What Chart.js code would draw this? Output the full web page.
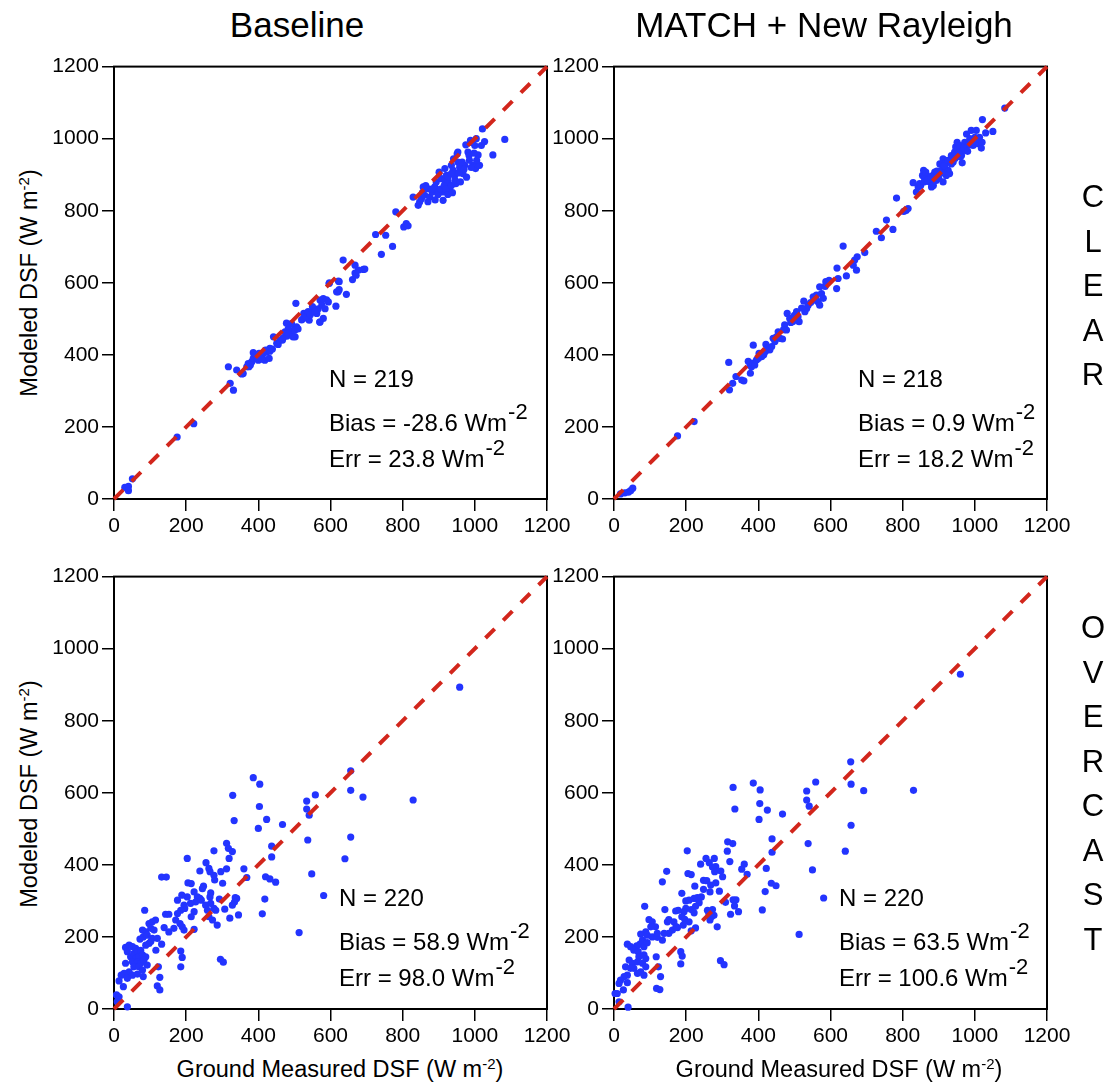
<!DOCTYPE html>
<html><head><meta charset="utf-8">
<script src="https://cdn.jsdelivr.net/npm/chart.js@4.4.0/dist/chart.umd.min.js"></script>
<style>
html,body{margin:0;padding:0;background:#fff;}
#wrap{position:relative;width:1118px;height:1084px;overflow:hidden;font-family:"Liberation Sans",Arial,Helvetica,sans-serif;color:#000;background:#fff;}
canvas{position:absolute;}
.t{position:absolute;white-space:nowrap;line-height:1;}
.ann{font-size:24px;}
.sup{position:relative;font-size:22px;top:-12px;margin-left:1px;}
.asup{position:relative;font-size:15px;top:-8px;}
.ttl{font-size:35px;transform:translateX(-50%);}
.axl{font-size:23.5px;}
.side{position:absolute;font-size:31px;line-height:44.5px;text-align:center;width:40px;}
</style></head><body><div id="wrap">
<canvas id="c0" width="533" height="493" style="left:44px;top:51px"></canvas>
<canvas id="c1" width="533" height="493" style="left:544px;top:51px"></canvas>
<canvas id="c2" width="533" height="493" style="left:44px;top:561px"></canvas>
<canvas id="c3" width="533" height="493" style="left:544px;top:561px"></canvas>

<div class="t ttl" style="left:297px;top:7px">Baseline</div>
<div class="t ttl" style="left:824px;top:7px">MATCH + New Rayleigh</div>

<div class="side" style="left:1073px;top:175px">C<br>L<br>E<br>A<br>R</div>
<div class="side" style="left:1073px;top:606px">O<br>V<br>E<br>R<br>C<br>A<br>S<br>T</div>

<div class="t axl" style="left:30px;top:283px;transform:translate(-50%,-50%) rotate(-90deg)">Modeled DSF (W m<span class="asup">-2</span>)</div>
<div class="t axl" style="left:30px;top:794px;transform:translate(-50%,-50%) rotate(-90deg)">Modeled DSF (W m<span class="asup">-2</span>)</div>
<div class="t axl" style="left:340px;top:1070px;transform:translate(-50%,-50%)">Ground Measured DSF (W m<span class="asup">-2</span>)</div>
<div class="t axl" style="left:839px;top:1070px;transform:translate(-50%,-50%)">Ground Measured DSF (W m<span class="asup">-2</span>)</div>

<div id="anns"></div>
</div>
<script>
// ---------- data ----------
const tickValues = [0, 200, 400, 600, 800, 1000, 1200];
const oneToOne = [0, 1200];
const panelNames = ["Baseline / CLEAR", "MATCH + New Rayleigh / CLEAR", "Baseline / OVERCAST", "MATCH + New Rayleigh / OVERCAST"];
const nLabels = ["N = 219", "N = 218", "N = 220", "N = 220"];
const biasLabels = ["Bias = -28.6 Wm", "Bias = 0.9 Wm", "Bias = 58.9 Wm", "Bias = 63.5 Wm"];
const errLabels = ["Err = 23.8 Wm", "Err = 18.2 Wm", "Err = 98.0 Wm", "Err = 100.6 Wm"];

// [ground measured, modeled]
const baselineClear = [
[30,32],[40,35],[40,23],[51,56],[175,172],[221,209],
[317,367],[322,321],[331,302],[340,358],[358,348],[354,347],[368,367],[372,376],[382,381],[386,390],[395,394],[405,399],[414,403],[423,408],[432,418],[400,385],[418,385],[430,390],[386,406],[402,404],[409,388],[420,413],[432,410],[439,416],[374,367],[378,372],
[442,450],[451,432],[460,441],[469,448],[479,452],[488,459],[497,468],[502,450],[474,464],[483,473],[492,487],[506,478],[478,488],[455,429],[467,441],[482,460],[496,450],[501,468],[510,472],[504,543],[525,501],[534,510],[541,496],[548,519],[557,524],[562,515],[566,528],[571,491],[571,552],[576,538],[580,501],[580,556],[585,528],[589,553],[594,547],[520,497],[526,515],[532,506],[538,520],[544,511],[550,534],[556,520],[596,598],[570,491],
[615,535],[621,575],[624,603],[635,663],[644,568],[617,575],[624,581],[597,600],[622,605],[661,609],[668,627],[671,621],[668,649],[677,635],[691,637],[695,638],[725,734],[741,679],[753,732],[772,701],[781,797],[803,755],[810,764],[815,758],
[829,838],[843,815],[847,824],[852,833],[857,866],[864,870],[870,861],[861,843],[875,838],[882,852],[889,866],[893,880],[895,857],[901,907],[907,889],[912,829],[910,852],[917,884],[921,898],[926,880],[929,866],[930,857],[935,926],[940,912],[941,944],[944,898],[947,875],[951,958],[953,963],[953,935],[958,921],[963,912],[967,903],[972,926],[977,893],[975,983],[981,963],[984,953],[988,995],[993,989],[995,926],[1000,981],[1002,917],[1006,930],[1009,955],[1013,926],[1018,981],[1021,1027],[1027,992],[1004,1000],[1050,955],[1083,998],[926,894],[935,903],[917,917],
[890,830],[898,845],[905,860],[915,870],[920,860],[925,845],[935,870],[945,885],[955,905],[960,880],[965,935],[970,915],[985,940],[990,920],[998,960],[1005,940],[870,825],[880,860],[855,850],[938,850]
];

const matchClear = [
[30,17],[40,19],[46,23],[52,30],[18,14],[176,175],[222,215],
[318,379],[320,303],[329,321],[338,340],[354,330],[360,328],[378,349],
[372,382],[377,372],[381,367],[386,377],[390,372],[395,386],[386,427],[402,404],[409,395],[415,400],[421,429],[427,418],[432,414],[437,423],[441,446],[446,437],[455,464],[460,446],[467,444],[473,483],[478,469],[480,515],[487,501],[495,492],[501,497],[506,515],[510,506],[513,492],[506,520],[526,549],[529,520],[534,529],[538,538],[552,561],[557,552],[561,566],[566,547],[570,538],[575,570],[580,557],[570,589],[587,603],[596,607],[618,641],[621,612],[617,584],[644,619],
[400,390],[420,410],[450,450],[470,470],[490,490],[500,510],[520,530],[545,545],[560,555],[585,590],
[635,702],[663,649],[667,663],[672,635],[674,672],[695,684],[727,743],[741,725],[755,774],[773,748],[783,835],[803,798],[810,801],[815,806],
[829,878],[838,852],[843,866],[847,875],[855,898],[858,912],[864,907],[870,894],[875,880],[880,866],[884,889],[889,907],[893,884],[898,898],[903,930],[907,912],[912,944],[912,880],[917,921],[921,935],[926,912],[930,903],[935,953],[940,935],[944,963],[947,977],[951,990],[953,972],[958,981],[965,933],[963,953],[967,967],[972,990],[977,1013],[981,981],[986,1000],[990,1023],[995,981],[1000,1004],[1004,1023],[1009,986],[1013,1004],[1018,974],[1021,1053],[1030,1016],[1050,1020],[1083,1085],[921,898],[884,898],[861,889],
[850,870],[860,880],[868,885],[878,895],[885,870],[895,910],[900,890],[910,905],[915,925],[925,940],[935,930],[945,945],[955,960],[960,950],[970,975],[980,965],[990,990],[1000,985],[1010,1000],[1020,990]
];

const baselineOvercast = [
[958,893],[829,580],[656,661],[656,607],[690,588],[656,477],[640,417],[558,594],[534,577],[534,555],[541,538],[537,469],[548,375],[581,315],[513,212],[467,512],[386,642],[404,624],[403,562],[400,501],[423,526],[437,452],[437,422],[420,367],[432,361],[448,352],[418,305],[411,264],[329,593],[333,523],[312,460],[317,446],[328,437],[319,418],[360,389],[368,365],[312,389],[295,138],[303,130],[345,261],[321,252],[336,309],[340,307],[307,277],[292,305],[301,349],[279,358],[296,381],[277,439],[255,406],[266,381],[238,383],[203,418],
[263,390],[277,371],
[132,366],[145,366],[205,350],[214,348],[248,341],[245,334],[222,325],[231,311],[238,307],[226,297],[242,302],[203,311],[194,288],[196,279],[185,274],[212,293],[222,270],[268,322],[266,311],[268,293],[277,279],[282,274],[259,274],[263,256],[273,247],[286,233],[334,297],[328,288],[254,288],[176,265],[171,247],[183,237],[189,228],[194,219],[166,224],[152,214],[139,226],[143,263],[152,263],[222,221],[214,256],[188,316],[176,302],[85,274],
[97,237],[106,242],[115,247],[102,224],[111,219],[88,214],[79,219],[81,200],[92,205],[106,196],[72,194],[120,196],[132,180],[116,163],[97,182],[88,177],[102,187],
[32,171],[42,177],[51,173],[60,168],[37,159],[46,145],[55,154],[65,159],[74,163],[60,140],[69,145],[79,150],[88,145],[51,131],[65,131],[74,127],[83,136],[92,122],[55,117],[69,117],[32,127],[42,103],[28,99],[51,94],[65,97],[79,108],[81,90],[20,94],[14,78],[37,85],[26,62],[7,39],[14,34],[37,6],[123,117],[127,88],[120,64],[127,53],[185,161],[189,143],[185,117],[12,26],[9,20]
];

const matchOvercast = [
[960,929],[830,607],[656,686],[657,624],[692,606],[657,510],[641,438],[559,630],[534,605],[534,580],[541,563],[538,459],[550,386],[581,308],[513,207],[467,541],[386,627],[405,608],[404,570],[402,526],[425,552],[438,472],[438,435],[422,390],[436,349],[449,342],[419,326],[411,275],[330,615],[335,555],[315,464],[329,459],[321,409],[314,438],[361,402],[369,374],[295,134],[305,123],[345,270],[323,263],[338,303],[330,303],[309,296],[286,228],[301,367],[282,395],[278,418],[264,406],[255,418],[240,402],[203,439],[354,388],
[146,382],[134,353],[205,376],[214,373],[273,394],[279,381],[296,383],[248,357],[257,356],[268,344],[282,350],[224,341],[248,332],[266,325],[292,327],[188,321],[199,300],[208,302],[222,307],[231,309],[242,311],[236,295],[226,285],[214,276],[222,267],[199,279],[194,270],[178,274],[171,272],[141,276],[188,256],[196,249],[208,242],[192,233],[176,226],[162,219],[152,210],[139,210],[148,242],[152,248],[166,242],[172,229],[259,274],[263,265],[268,267],[277,260],[273,276],[270,256],[334,286],[266,247],[226,225],[214,217],[85,285],
[97,248],[106,242],[115,228],[102,228],[88,214],[74,208],[79,191],[92,205],[106,200],[120,199],[72,180],[63,175],[37,180],[46,173],[55,163],[67,159],[83,173],[92,184],[120,210],[134,191],
[69,145],[83,150],[88,140],[42,136],[51,127],[65,131],[79,127],[88,117],[55,113],[32,117],[46,113],[74,103],[83,94],[65,99],[37,94],[28,90],[18,80],[14,71],[37,73],[26,53],[9,43],[3,43],[14,20],[39,5],[117,145],[123,117],[129,90],[118,57],[127,54],[185,159],[189,147],[185,125]
];

// ---------- layout (positions only) ----------
const panels = [
  {id:"c0", pts: baselineClear,    annLeft:329, base:[387,431,467]},
  {id:"c1", pts: matchClear,       annLeft:858, base:[387,431,467]},
  {id:"c2", pts: baselineOvercast, annLeft:339, base:[906,950,986]},
  {id:"c3", pts: matchOvercast,    annLeft:839, base:[906,950,986]}
];

const FONT = '"Liberation Sans", Arial, Helvetica, sans-serif';

const framePlugin = {
  id: 'frame',
  beforeDatasetsDraw(chart) {
    const {ctx, chartArea: a} = chart;
    ctx.save();
    ctx.strokeStyle = '#000';
    ctx.lineWidth = 2;
    ctx.strokeRect(a.left, a.top, a.right - a.left, a.bottom - a.top);
    ctx.restore();
  }
};

function axis(dir) {
  return {
    type: 'linear', min: 0, max: 1200,
    position: dir === 'x' ? 'bottom' : 'left',
    afterBuildTicks: s => { s.ticks = tickValues.map(v => ({value: v})); },
    afterFit: s => { if (dir === 'x') s.height = 45; else s.width = 70; },
    grid: {drawOnChartArea: false, drawTicks: true, tickLength: 12, color: '#000', lineWidth: 1.5},
    border: {display: false},
    ticks: {color: '#000', font: {family: FONT, size: 21}, padding: 3, maxRotation: 0, autoSkip: false,
            callback: v => String(v)}
  };
}

function makeChart(p) {
  return new Chart(document.getElementById(p.id), {
    type: 'scatter',
    data: {datasets: [
      {type: 'line', data: oneToOne.map(v => ({x: v, y: v})), borderColor: '#d2261c', borderWidth: 4,
       borderDash: [13, 12], pointRadius: 0, fill: false, tension: 0, order: 0, clip: false},
      {type: 'scatter', data: p.pts.map(q => ({x: q[0], y: q[1]})), backgroundColor: '#2334ff',
       borderWidth: 0, pointRadius: 3.6, pointHoverRadius: 3.6, order: 1, clip: false}
    ]},
    options: {
      responsive: false, animation: false, events: [],
      layout: {padding: {top: 15, right: 30, bottom: 0, left: 0}},
      plugins: {legend: {display: false}, tooltip: {enabled: false}},
      scales: {x: axis('x'), y: axis('y')}
    },
    plugins: [framePlugin]
  });
}

panels.forEach(makeChart);

// annotation text
const annHost = document.getElementById('anns');
panels.forEach((p, i) => {
  const lines = [
    {txt: nLabels[i], sup: false},
    {txt: biasLabels[i], sup: true},
    {txt: errLabels[i], sup: true}
  ];
  lines.forEach((ln, k) => {
    const d = document.createElement('div');
    d.className = 't ann';
    d.style.left = p.annLeft + 'px';
    d.style.top = (p.base[k] - 20.3) + 'px';
    d.textContent = ln.txt;
    if (ln.sup) {
      const s = document.createElement('span');
      s.className = 'sup';
      s.textContent = '-2';
      d.appendChild(s);
    }
    annHost.appendChild(d);
  });
});
</script>
</body></html>
